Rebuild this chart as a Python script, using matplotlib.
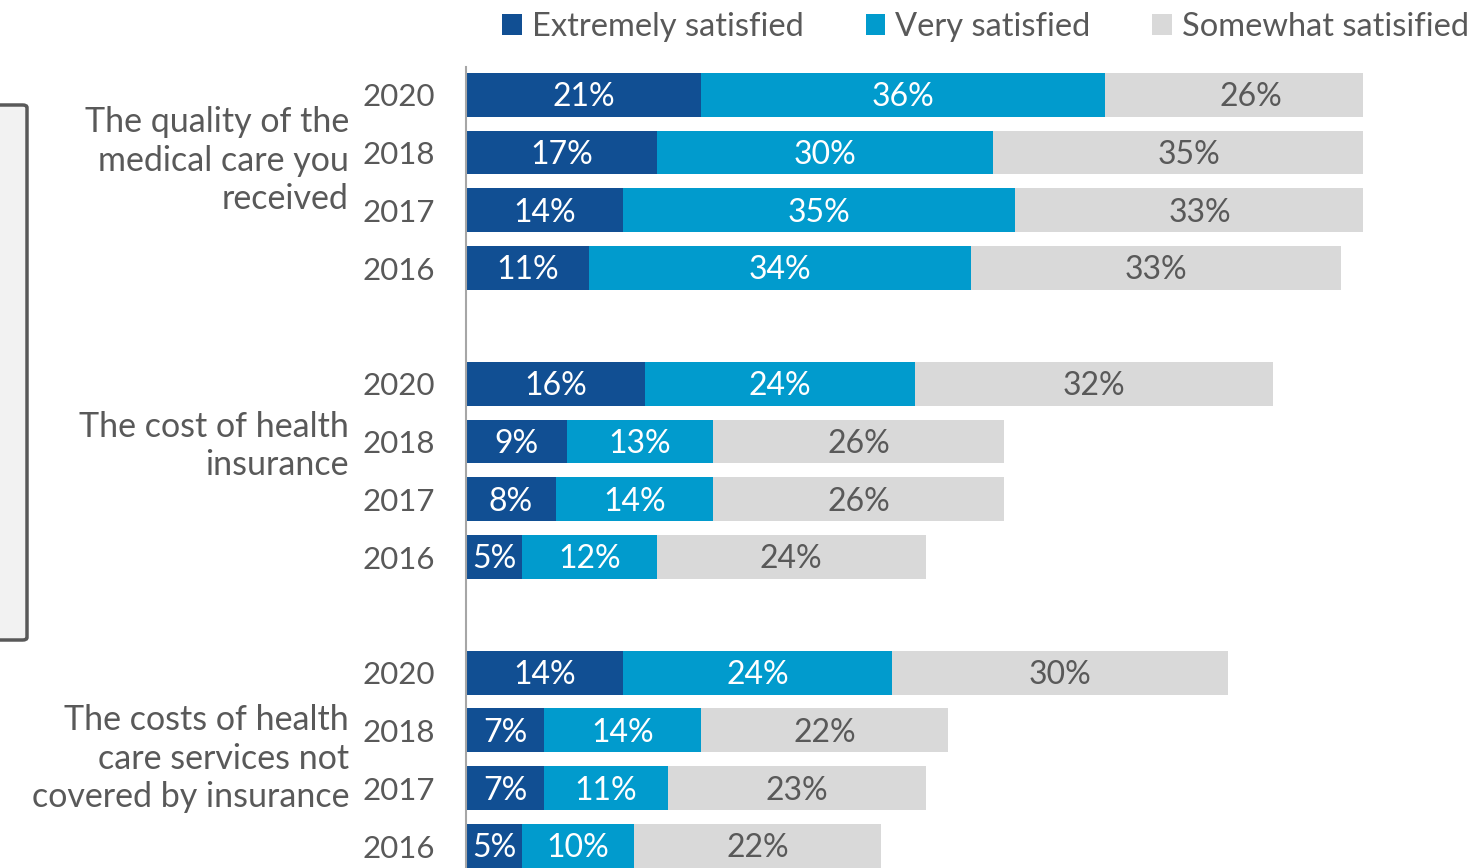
import matplotlib.pyplot as plt
import matplotlib.transforms as mtransforms
from matplotlib.patches import FancyBboxPatch, Patch
import numpy as np

plt.rcParams['font.family'] = ['Lato', 'DejaVu Sans']

groups = ["The quality of the\nmedical care you\nreceived",
          "The cost of health\ninsurance",
          "The costs of health\ncare services not\ncovered by insurance"]
years = ["2020", "2018", "2017", "2016"]
series = ["Extremely satisfied", "Very satisfied", "Somewhat satisified"]
extremely = [21, 17, 14, 11, 16, 9, 8, 5, 14, 7, 7, 5]
very = [36, 30, 35, 34, 24, 13, 14, 12, 24, 14, 11, 10]
somewhat = [26, 35, 33, 33, 32, 26, 26, 24, 30, 22, 23, 22]

colors = ["#114f93", "#019bcd", "#d9d9d9"]
text_colors = ["white", "white", "#595959"]
grey = "#595959"

fig = plt.figure(figsize=(14.7, 8.68), dpi=100)
ax = fig.add_axes([466 / 1470, 0, (1363 - 466) / 1470, 1 - 67 / 868])

pos = []
for g in range(len(groups)):
    pos += [g * 5 + i for i in range(len(years))]
pos = np.array(pos) + 0.0

left = np.zeros(len(pos))
for vals, col, tc in zip([extremely, very, somewhat], colors, text_colors):
    bars = ax.barh(pos, vals, left=left, height=0.76, color=col, edgecolor="none")
    for b, v in zip(bars, vals):
        ax.text(b.get_x() + b.get_width() / 2, b.get_y() + b.get_height() / 2 + 0.04,
                f"{v}%", ha="center", va="center", color=tc, fontsize=23)
    left += np.array(vals)

ax.set_xlim(0, 80)
ax.set_ylim(13.38, -0.48)
ax.set_yticks(pos)
ax.set_yticklabels(years * len(groups), fontsize=22.5, color=grey)
ax.tick_params(axis="y", length=0, pad=22)
ax.set_xticks([])
for s in ["top", "right", "bottom"]:
    ax.spines[s].set_visible(False)
ax.spines["left"].set_color("#a6a6a6")
ax.spines["left"].set_linewidth(1.5)

trans = mtransforms.blended_transform_factory(fig.transFigure, ax.transData)
for label, yc in zip(groups, [1.14, 6.08, 11.49]):
    ax.text(349 / 1470, yc, label, transform=trans, ha="right", va="center",
            fontsize=24.5, color=grey, linespacing=1.25)

handles = [Patch(facecolor=c, edgecolor="none") for c in colors]
fig.legend(handles, series, loc="upper right", bbox_to_anchor=(1.019, 1.02), ncol=3,
           frameon=False, fontsize=23.5, labelcolor=grey, handlelength=0.6,
           handleheight=0.6, handletextpad=0.3, columnspacing=1.9)

box = FancyBboxPatch((-20 / 1470, 1 - 640 / 868), 47 / 1470, 535 / 868,
                     boxstyle="round,pad=0,rounding_size=0.003", transform=fig.transFigure,
                     facecolor="#f2f2f2", edgecolor=grey, linewidth=2.5)
fig.patches.append(box)

fig.savefig("out.png", dpi=100)
